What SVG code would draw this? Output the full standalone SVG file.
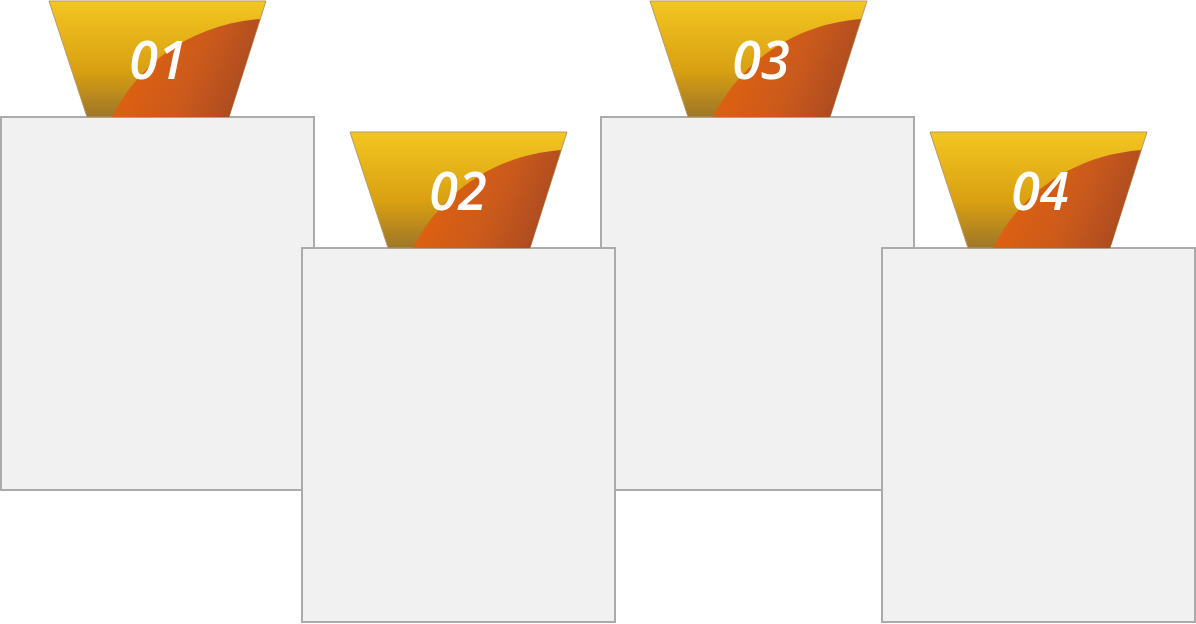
<svg xmlns="http://www.w3.org/2000/svg" width="1196" height="624" viewBox="0 0 1196 624">
<style>
.box{fill:#F1F1F1;stroke:#ABABAB;stroke-width:2}
.num{font-family:"Open Sans","Liberation Sans",sans-serif;font-weight:600;font-style:italic;font-size:52px;fill:#FFFFFF;text-anchor:middle}
</style>
<defs>
<linearGradient id="gy" x1="0" y1="0" x2="0" y2="1">
<stop offset="0" stop-color="#F3C621"/>
<stop offset="0.6" stop-color="#D9A012"/>
<stop offset="1" stop-color="#9E7628"/>
</linearGradient>
<linearGradient id="go" x1="0" y1="0.6" x2="1" y2="0.9">
<stop offset="0" stop-color="#E2620E"/>
<stop offset="0.5" stop-color="#CA5A1C"/>
<stop offset="1" stop-color="#A04522"/>
</linearGradient>
<g id="tab">
<path d="M0,0 L217,0 L180,116 L38,116 Z" fill="url(#gy)" stroke="#B59A6A" stroke-width="1"/>
<path d="M63,116 C88,66 138,24 211,18 L180,116 Z" fill="url(#go)"/>
</g>
</defs>
<g id="node1">
<rect class="box" x="1" y="117" width="313" height="373"/>
<use href="#tab" x="49" y="1"/>
<text class="num" x="158" y="79">01</text>
</g>
<g id="node3">
<rect class="box" x="601" y="117" width="313" height="373"/>
<use href="#tab" x="650" y="1"/>
<text class="num" x="761" y="79">03</text>
</g>
<g id="node2">
<rect class="box" x="302" y="248" width="313" height="374"/>
<use href="#tab" x="350" y="132"/>
<text class="num" x="458" y="210">02</text>
</g>
<g id="node4">
<rect class="box" x="882" y="248" width="313" height="374"/>
<use href="#tab" x="930" y="132"/>
<text class="num" x="1040" y="210">04</text>
</g>
<g id="connectors"/>
</svg>
